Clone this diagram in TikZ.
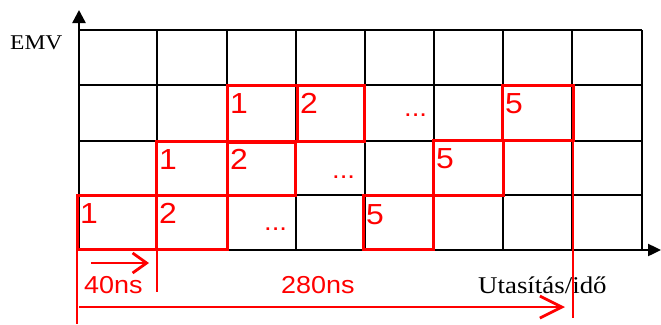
\documentclass[tikz,border=0pt]{standalone}
\usepackage{fontspec}
\usetikzlibrary{arrows.meta}
\newfontfamily\serifx{Liberation Serif}[FakeStretch=1.12]
\newfontfamily\sansx{Liberation Sans}[FakeStretch=1.1]
\definecolor{pred}{RGB}{255,0,0}
\begin{document}
\begin{tikzpicture}[x=1pt,y=-1pt,
 gridline/.style={line width=1.7pt, black},
 axisline/.style={line width=2.4pt, black},
 redbox/.style={draw=pred, line width=3pt},
 redline/.style={draw=pred, line width=2.8pt},
 num/.style={anchor=base west, inner sep=0pt, text=pred, font=\sansx\fontsize{29}{31}\selectfont},
 dotlab/.style={anchor=base west, inner sep=0pt, text=pred, font=\sansx\fontsize{25}{27}\selectfont},
 redlab/.style={anchor=base west, inner sep=0pt, text=pred, font=\sansx\fontsize{24.5}{26}\selectfont},
 axislab/.style={anchor=base west, inner sep=0pt, font=\serifx\fontsize{24}{26}\selectfont},
]
\useasboundingbox (0,0) rectangle (661,324);
% grid
\foreach \x in {157,227,296,365,434,503,572,642} \draw[gridline] (\x,30) -- (\x,250);
\foreach \y in {30,85,141,195} \draw[gridline] (79,\y) -- (642,\y);
% axes
\coordinate (O) at (79,250);
\coordinate (ytop) at (79,10);
\coordinate (xend) at (661,250);
\draw[axisline,-{Triangle[length=13pt,width=13pt]}] (O) -- (ytop);
\draw[axisline,-{Triangle[length=13pt,width=12pt]}] (O) -- (xend);
\node[axislab,font=\serifx\fontsize{21}{23}\selectfont] (emv) at (10,49) {EMV};
\node[axislab] (ido) at (478,293) {Utasítás/idő};
% red boxes row 4
\draw[redbox] (77,195) rectangle (156,249);
\draw[redbox] (156,195) rectangle (227,249);
\draw[redbox] (363,195) rectangle (433,249);
\node[num] (a1) at (80,223) {1};
\node[num] (a2) at (159,223) {2};
\node[num] (a5) at (366,224) {5};
\node[dotlab] (ad) at (264,230) {...};
% red boxes row 3
\draw[redbox] (156,141) rectangle (227,195);
\draw[redbox] (227,142) rectangle (295,195);
\draw[redbox] (433,140) rectangle (503,195);
\node[num] (b1) at (159,169) {1};
\node[num] (b2) at (230,169) {2};
\node[num] (b5) at (436,168) {5};
\node[dotlab] (bd) at (332,178) {...};
% red boxes row 2
\draw[redbox] (227,85) rectangle (297,141);
\draw[redbox] (297,85) rectangle (364,141);
\draw[redbox] (502,85) rectangle (573,140);
\node[num] (c1) at (230,113) {1};
\node[num] (c2) at (300,113) {2};
\node[num] (c5) at (505,113) {5};
\node[dotlab] (cd) at (404,116) {...};
% timing marks
\coordinate (l1) at (77,250);
\coordinate (l1b) at (77,324);
\coordinate (l2) at (157,250);
\coordinate (l2b) at (157,292);
\coordinate (l3) at (573,140);
\coordinate (l3b) at (573,318);
\draw[redline] (l1) -- (l1b);
\draw[redline] (l2) -- (l2b);
\draw[redline] (l3) -- (l3b);
\coordinate (s1) at (91,263);
\coordinate (e1) at (149,263);
\coordinate (s2) at (79,307);
\coordinate (e2) at (565,307);
\draw[redline,-{Straight Barb[length=14pt,width=20pt]}] (s1) -- (e1);
\draw[redline,-{Straight Barb[length=22pt,width=22pt]}] (s2) -- (e2);
\node[redlab] (t40) at (84,293) {40ns};
\node[redlab] (t280) at (281,293) {280ns};
\end{tikzpicture}
\end{document}
